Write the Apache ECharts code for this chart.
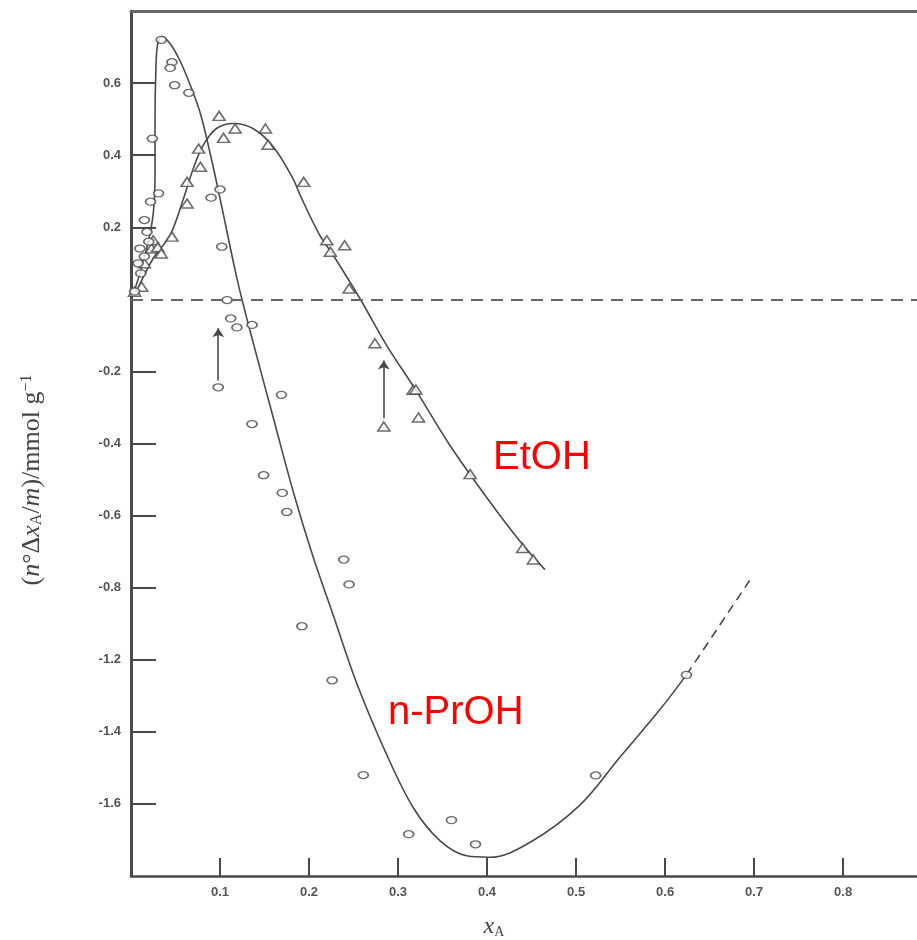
<!DOCTYPE html>
<html>
<head>
<meta charset="utf-8">
<script src="https://cdn.jsdelivr.net/npm/echarts@6/dist/echarts.min.js"></script>
<style>
  html, body { margin: 0; padding: 0; background: #ffffff; }
  #chart { width: 917px; height: 940px; }
</style>
</head>
<body>
<div id="chart"></div>
<script>
// Axis ticks (the printed scale skips -1.0, so positions and labels are kept apart)
const xTickValues = [0.1, 0.2, 0.3, 0.4, 0.5, 0.6, 0.7, 0.8];
const xTickLabels = ['0.1', '0.2', '0.3', '0.4', '0.5', '0.6', '0.7', '0.8'];
const yTickValues = [0.6, 0.4, 0.2, -0.2, -0.4, -0.6, -0.8, -1.0, -1.2, -1.4];
const yTickLabels = ['0.6', '0.4', '0.2', '-0.2', '-0.4', '-0.6', '-0.8', '-1.2', '-1.4', '-1.6'];

// Ethanol: measured points (triangles) and fitted curve
const etohPoints = [
  [0.004, 0.021], [0.012, 0.035], [0.015, 0.100], [0.023, 0.141], [0.025, 0.164],
  [0.030, 0.145], [0.034, 0.127], [0.046, 0.174], [0.063, 0.266], [0.063, 0.326],
  [0.078, 0.368], [0.076, 0.418], [0.099, 0.509], [0.104, 0.448], [0.117, 0.474],
  [0.151, 0.474], [0.154, 0.429], [0.194, 0.326], [0.220, 0.164], [0.224, 0.132],
  [0.240, 0.150], [0.245, 0.030], [0.274, -0.122], [0.317, -0.251], [0.320, -0.250],
  [0.323, -0.328], [0.284, -0.353], [0.381, -0.485], [0.440, -0.690], [0.452, -0.722]
];
const etohCurve = [
  [0.006, 0.021], [0.025, 0.114], [0.044, 0.178], [0.059, 0.280], [0.070, 0.363],
  [0.081, 0.427], [0.096, 0.474], [0.115, 0.488], [0.137, 0.474], [0.160, 0.423],
  [0.182, 0.335], [0.190, 0.289], [0.212, 0.178], [0.227, 0.123], [0.257, 0.003],
  [0.287, -0.127], [0.321, -0.256], [0.358, -0.404], [0.400, -0.551], [0.437, -0.671],
  [0.465, -0.750]
];

// n-Propanol: measured points (circles) and fitted curve
const nproPoints = [
  [0.034, 0.720], [0.046, 0.658], [0.044, 0.642], [0.049, 0.594], [0.065, 0.573],
  [0.024, 0.446], [0.031, 0.294], [0.022, 0.271], [0.015, 0.220], [0.018, 0.187],
  [0.010, 0.141], [0.015, 0.119], [0.011, 0.072], [0.004, 0.022], [0.008, 0.100],
  [0.020, 0.160], [0.100, 0.305], [0.090, 0.282], [0.102, 0.146], [0.108, -0.002],
  [0.112, -0.053], [0.119, -0.078], [0.136, -0.071], [0.098, -0.244], [0.169, -0.265],
  [0.136, -0.346], [0.149, -0.488], [0.170, -0.537], [0.175, -0.590], [0.239, -0.722],
  [0.245, -0.791], [0.192, -0.907], [0.226, -1.057], [0.261, -1.320], [0.312, -1.484],
  [0.360, -1.445], [0.387, -1.512], [0.522, -1.321], [0.624, -1.042]
];
const nproCurve = [
  [0.002, 0.011], [0.010, 0.072], [0.019, 0.155], [0.025, 0.238], [0.027, 0.335],
  [0.027, 0.501], [0.028, 0.640], [0.030, 0.709], [0.035, 0.729], [0.044, 0.709],
  [0.055, 0.662], [0.066, 0.598], [0.078, 0.515], [0.089, 0.404], [0.100, 0.280],
  [0.119, 0.058], [0.132, -0.071], [0.160, -0.330], [0.183, -0.540], [0.204, -0.710],
  [0.227, -0.875], [0.254, -1.068], [0.287, -1.262], [0.317, -1.410], [0.347, -1.502],
  [0.377, -1.544], [0.403, -1.548], [0.448, -1.507], [0.504, -1.404], [0.549, -1.271],
  [0.594, -1.139], [0.624, -1.042]
];
const nproCurveExtension = [[0.624, -1.042], [0.695, -0.780]];

// Shift arrows: [start, end]
const nproArrow = [[0.098, -0.225], [0.098, -0.080]];
const etohArrow = [[0.284, -0.330], [0.284, -0.170]];

const ink = '#4a4a4a';
const ellipse = 'path://M0,3.5 A5,3.5 0 1,0 10,3.5 A5,3.5 0 1,0 0,3.5 Z';
const triangle = 'path://M6,0 L12,10 L0,10 Z';

function labelFor(values, labels) {
  return function (v) {
    for (let i = 0; i < values.length; i++) {
      if (Math.abs(values[i] - v) < 1e-6) return labels[i];
    }
    return '';
  };
}

const arrowLine = (from, to) => ({
  silent: true, symbol: ['none', 'arrow'], symbolSize: 9, label: { show: false },
  lineStyle: { color: ink, width: 1.6, type: 'solid' },
  itemStyle: { color: ink },
  data: [[{ coord: from }, { coord: to }]]
});

const chart = echarts.init(document.getElementById('chart'), null, { renderer: 'canvas' });

chart.setOption({
  animation: false,
  backgroundColor: '#ffffff',
  grid: { left: 131, right: 0, top: 11, bottom: 64, containLabel: false },
  xAxis: [
    {
      type: 'value', min: 0, max: 0.883, position: 'bottom',
      splitLine: { show: false },
      axisLine: { show: true, onZero: false, lineStyle: { color: ink, width: 2.5 } },
      axisTick: { show: true, inside: true, length: 18, customValues: xTickValues,
                  lineStyle: { color: ink, width: 2 } },
      axisLabel: { show: true, customValues: xTickValues, margin: 10,
                   formatter: labelFor(xTickValues, xTickLabels),
                   fontFamily: 'Liberation Sans', fontWeight: 'bold', fontSize: 13, color: '#555' }
    },
    {
      type: 'value', min: 0, max: 0.883, position: 'top',
      splitLine: { show: false },
      axisLine: { show: true, onZero: false, lineStyle: { color: '#666', width: 3 } },
      axisTick: { show: false }, axisLabel: { show: false }
    }
  ],
  yAxis: {
    type: 'value', min: -1.6, max: 0.8,
    splitLine: { show: false },
    axisLine: { show: true, onZero: false, lineStyle: { color: ink, width: 3 } },
    axisTick: { show: true, inside: true, length: 25, customValues: yTickValues,
                lineStyle: { color: ink, width: 2 } },
    axisLabel: { show: true, customValues: yTickValues, margin: 10,
                 formatter: labelFor(yTickValues, yTickLabels),
                 fontFamily: 'Liberation Sans', fontWeight: 'bold', fontSize: 13, color: '#555' }
  },
  series: [
    {
      name: 'EtOH fit', type: 'line', data: etohCurve, showSymbol: false, smooth: 0.35,
      lineStyle: { color: ink, width: 1.6 }, silent: true, z: 2
    },
    {
      name: 'n-PrOH fit', type: 'line', data: nproCurve, showSymbol: false, smooth: 0.35,
      lineStyle: { color: ink, width: 1.6 }, silent: true, z: 2,
      markLine: {
        silent: true, symbol: 'none', label: { show: false },
        lineStyle: { color: '#666', width: 2, type: [12, 8] },
        data: [{ yAxis: 0 }]
      }
    },
    {
      name: 'n-PrOH fit (extrapolated)', type: 'line', data: nproCurveExtension, showSymbol: false,
      lineStyle: { color: ink, width: 1.6, type: [9, 6] }, silent: true, z: 2
    },
    {
      name: 'EtOH', type: 'scatter', data: etohPoints, symbol: triangle, symbolSize: [12, 9],
      itemStyle: { color: '#ffffff', borderColor: ink, borderWidth: 1.6 }, z: 3,
      markLine: arrowLine(etohArrow[0], etohArrow[1])
    },
    {
      name: 'n-PrOH', type: 'scatter', data: nproPoints, symbol: ellipse, symbolSize: [10, 7],
      itemStyle: { color: '#ffffff', borderColor: ink, borderWidth: 1.5 }, z: 3,
      markLine: arrowLine(nproArrow[0], nproArrow[1])
    }
  ],
  graphic: [
    {
      type: 'text', x: 32, y: 480, rotation: Math.PI / 2,
      style: {
        text: '({it|n}°Δ{it|x}{sub|A}/{it|m})/mmol g{sup|−1}',
        fill: '#444', font: '26px "Liberation Serif"',
        align: 'center', verticalAlign: 'middle',
        rich: {
          it: { fontStyle: 'italic', fontSize: 26, fontFamily: 'Liberation Serif', fill: '#444' },
          sub: { fontSize: 16, fontFamily: 'Liberation Serif', fill: '#444', verticalAlign: 'bottom', padding: [10, 0, 0, 0] },
          sup: { fontSize: 16, fontFamily: 'Liberation Serif', fill: '#444', verticalAlign: 'top', padding: [0, 0, 10, 0] }
        }
      }
    },
    {
      type: 'text', x: 494, y: 927,
      style: {
        text: '{it|x}{sub|A}', fill: '#444', align: 'center', verticalAlign: 'middle',
        rich: {
          it: { fontStyle: 'italic', fontSize: 24, fontFamily: 'Liberation Serif', fill: '#444' },
          sub: { fontSize: 14, fontFamily: 'Liberation Serif', fill: '#444', padding: [10, 0, 0, 0] }
        }
      }
    },
    {
      type: 'text', x: 493, y: 458,
      style: { text: 'EtOH', fill: '#ff0000', font: '40px "Liberation Sans"', verticalAlign: 'middle' }
    },
    {
      type: 'text', x: 388, y: 713,
      style: { text: 'n-PrOH', fill: '#ff0000', font: '40px "Liberation Sans"', verticalAlign: 'middle' }
    }
  ]
});
</script>
</body>
</html>
